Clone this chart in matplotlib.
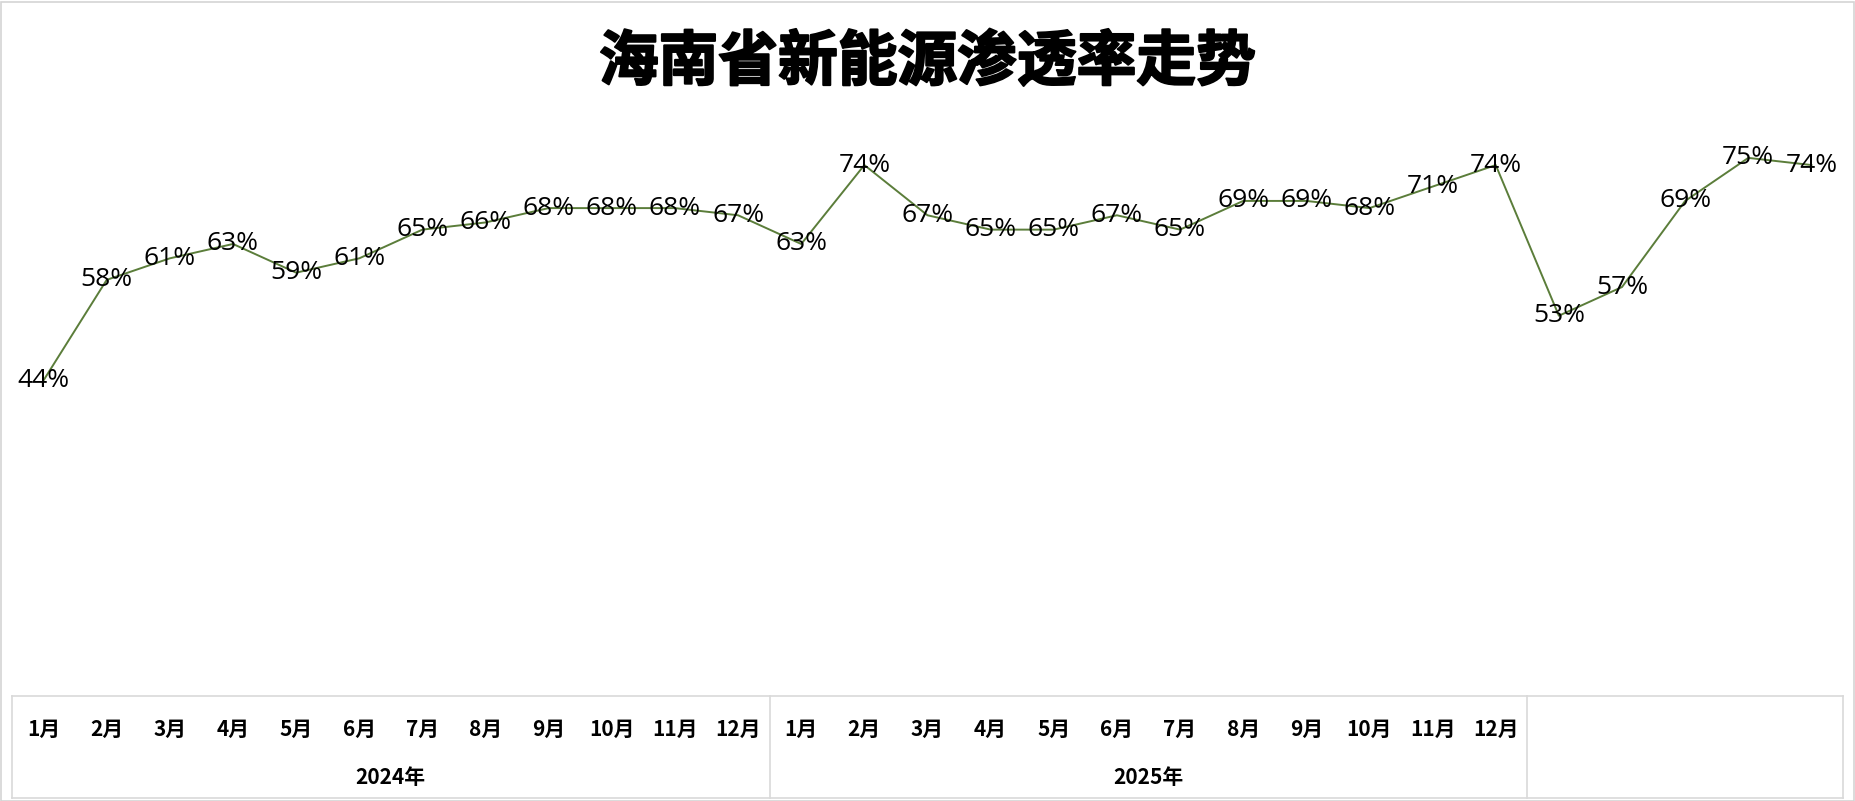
import matplotlib
matplotlib.use('Agg')
import matplotlib.pyplot as plt
import matplotlib.patheffects as pe
from matplotlib.patches import Rectangle

plt.rcParams['font.family'] = ['Noto Sans CJK SC', 'DejaVu Sans']

# data
years = ['2024年', '2025年', '']
months_2024 = [f'{i}月' for i in range(1, 13)]
months_2025 = [f'{i}月' for i in range(1, 13)]
months_2026 = ['', '', '', '', '']   # hidden in the reference
rate_2024 = [44, 58, 61, 63, 59, 61, 65, 66, 68, 68, 68, 67]
rate_2025 = [63, 74, 67, 65, 65, 67, 65, 69, 69, 68, 71, 74]
rate_2026 = [53, 57, 69, 75, 74]

values = rate_2024 + rate_2025 + rate_2026
month_labels = months_2024 + months_2025 + months_2026
group_sizes = [len(rate_2024), len(rate_2025), len(rate_2026)]
n = len(values)

W, H = 1855, 801
fig = plt.figure(figsize=(W / 100, H / 100), dpi=100)

def fx(px):
    return px / W

def fy(px):
    return 1 - px / H

# outer border
fig.patches.append(Rectangle((0.5 / W, 0.5 / H), 1 - 2 / W, 1 - 2 / H, transform=fig.transFigure,
                             fill=False, edgecolor='#d4d4d4', linewidth=1.2))

fig.text(0.5, fy(63), '海南省新能源渗透率走势', ha='center', va='center',
         fontsize=43, fontweight='black',
         path_effects=[pe.withStroke(linewidth=1.5, foreground='black')])

x0, x1 = 12, 1843
plot_top, plot_bot = 122, 696
ax = fig.add_axes([fx(x0), fy(plot_bot), fx(x1) - fx(x0), (plot_bot - plot_top) / H])
xs = list(range(n))
ax.plot(xs, values, color='#5b7d3a', linewidth=1.4)
for x, v in zip(xs, values):
    ax.text(x, v, f'{v}%', ha='center', va='center', fontsize=19, color='black',
            family=['Open Sans', 'DejaVu Sans'])
ax.set_xlim(-0.5, n - 0.5)
ax.set_ylim(0, 80)
ax.axis('off')

# category table
tab = fig.add_axes([fx(x0), fy(798), fx(x1) - fx(x0), (798 - plot_bot) / H])
tab.set_xlim(-0.5, n - 0.5)
tab.set_ylim(0, 1)
tab.axis('off')
grid_c = '#d9d9d9'
tab.plot([-0.5, n - 0.5], [1, 1], color=grid_c, lw=1.2, clip_on=False)
tab.plot([-0.5, n - 0.5], [0, 0], color=grid_c, lw=1.2, clip_on=False)
tab.plot([-0.5, -0.5], [0, 1], color=grid_c, lw=1.2, clip_on=False)
start = 0
for size, yr in zip(group_sizes, years):
    end = start + size
    tab.plot([end - 0.5, end - 0.5], [0, 1], color=grid_c, lw=1.2, clip_on=False)
    tab.text((start + end - 1) / 2, 0.2, yr, ha='center', va='center',
             fontsize=15, fontweight='bold')
    start = end
for x, lab in zip(xs, month_labels):
    tab.text(x, 0.67, lab, ha='center', va='center', fontsize=15, fontweight='bold')

fig.savefig('out.png', dpi=100)
